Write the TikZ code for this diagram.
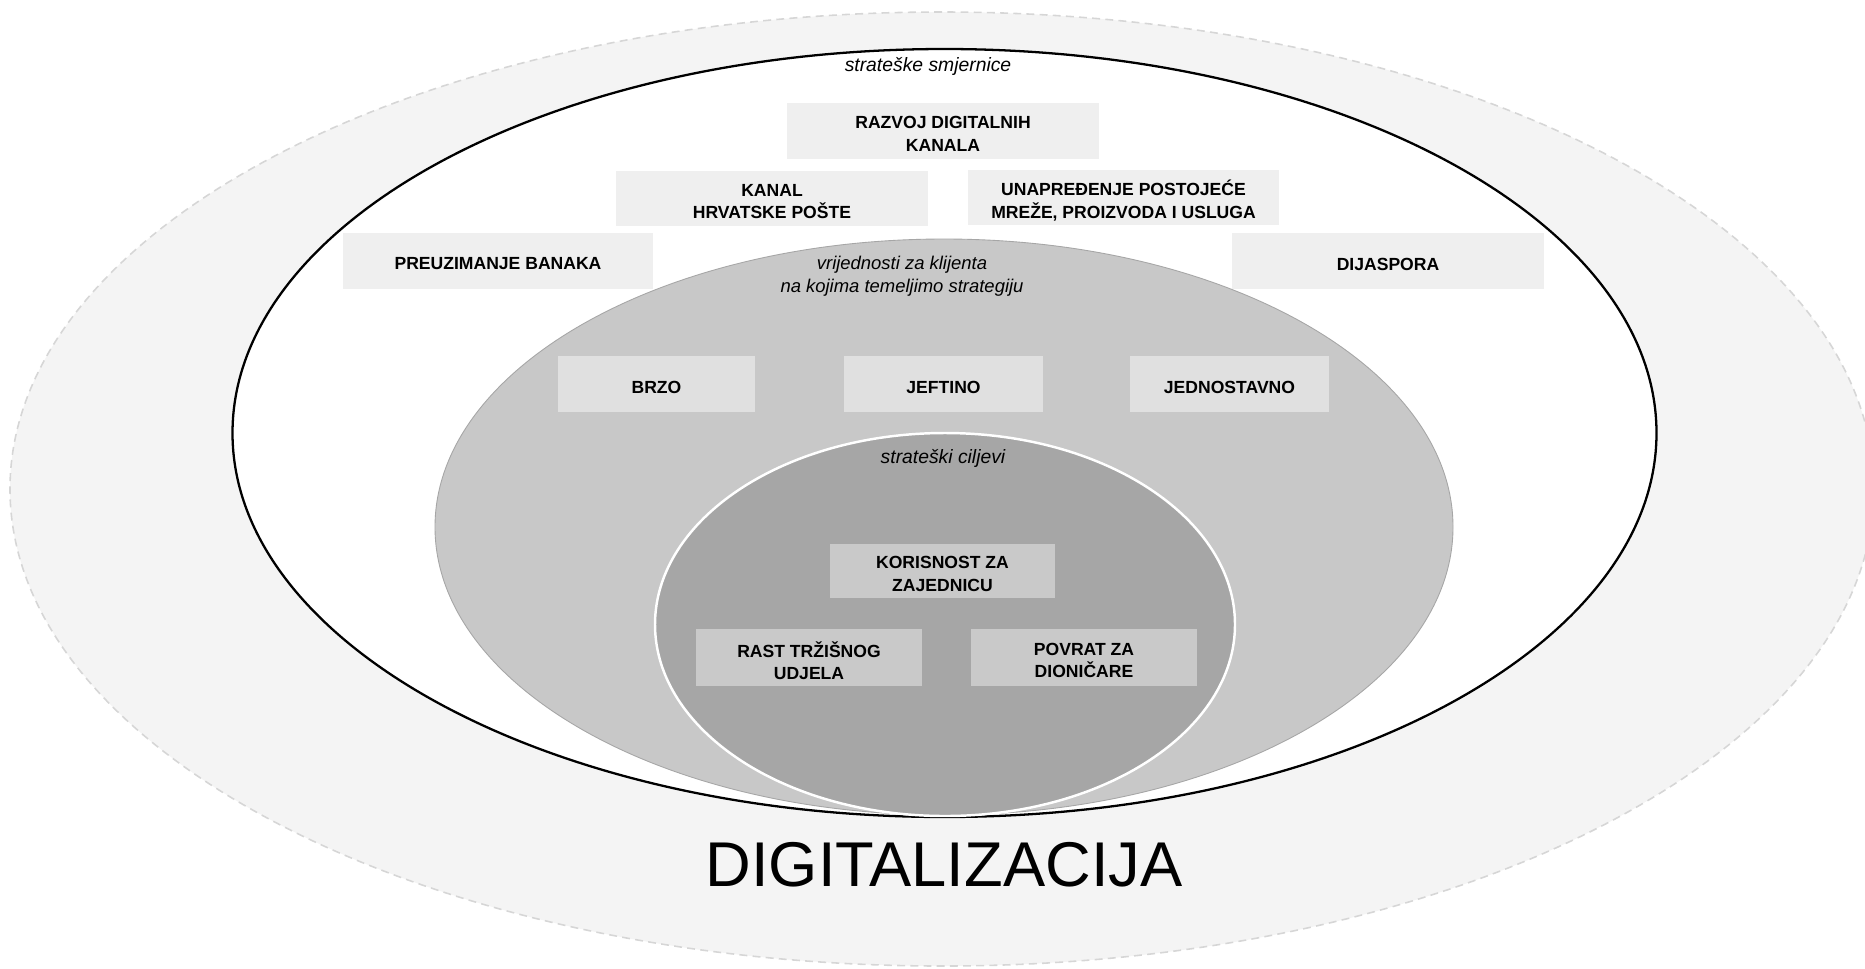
\documentclass[tikz,border=0pt]{standalone}
\usepackage{fontspec}
\setmainfont{Liberation Sans}
\definecolor{ringgray}{HTML}{F4F4F4}
\definecolor{dashgray}{HTML}{D6D6D6}
\definecolor{boxa}{HTML}{EFEFEF}
\definecolor{midgray}{HTML}{C8C8C8}
\definecolor{boxb}{HTML}{E0E0E0}
\definecolor{coregray}{HTML}{A6A6A6}
\definecolor{boxc}{HTML}{C9C9C9}
\begin{document}
\begin{tikzpicture}[x=0.02cm,y=-0.02cm,
    boxtxt/.style={font=\bfseries\fontsize{10}{12.8}\selectfont,align=center,inner sep=0pt,yshift=-1.7pt},
    lbl/.style={font=\itshape\fontsize{11}{12.8}\selectfont,align=center,inner sep=0pt,yshift=-1.4pt}]
    \useasboundingbox (0,0) rectangle (1865,968);
    \clip (0,0) rectangle (1865,968);
    % rings
    \draw[draw=dashgray,fill=ringgray,line width=0.9pt,dash pattern=on 4.5pt off 3pt] (942,489) ellipse [x radius=932,y radius=477];
    \draw[fill=white,line width=1.3pt] (944.5,433) ellipse [x radius=712,y radius=384];
    \draw[draw=black!35,fill=midgray,line width=0.5pt] (944,527) ellipse [x radius=509,y radius=288];
    \draw[draw=white,fill=coregray,line width=1.4pt] (945,624.5) ellipse [x radius=290,y radius=191.5];
    %
    \node[lbl] (smjernice) at (928,64) {strateške smjernice};
    \node[lbl,font=\itshape\fontsize{10.5}{12.8}\selectfont] (vrijednosti) at (902,274) {vrijednosti za klijenta\\na kojima temeljimo strategiju};
    \node[lbl] (ciljevi) at (943,456) {strateški ciljevi};
    %
    \fill[boxa] (787,103) rectangle (1099,159); \node[boxtxt] (razvoj) at (943,131) {RAZVOJ DIGITALNIH\\KANALA};
    \fill[boxa] (616,171) rectangle (928,226); \node[boxtxt] (kanal) at (772,198.5) {KANAL\\HRVATSKE POŠTE};
    \fill[boxa] (968,170) rectangle (1279,225); \node[boxtxt] (mreza) at (1123.5,197.5) {UNAPREĐENJE POSTOJEĆE\\MREŽE, PROIZVODA I USLUGA};
    \fill[boxa] (343,233) rectangle (653,289); \node[boxtxt] (banke) at (498,261) {PREUZIMANJE BANAKA};
    \fill[boxa] (1232,233) rectangle (1544,289); \node[boxtxt] (dijaspora) at (1388,261) {DIJASPORA};
    %
    \fill[boxb] (558,356) rectangle (755,412); \node[boxtxt] (brzo) at (656.5,384) {BRZO};
    \fill[boxb] (844,356) rectangle (1043,412); \node[boxtxt] (jeftino) at (943.5,384) {JEFTINO};
    \fill[boxb] (1130,356) rectangle (1329,412); \node[boxtxt] (jednostavno) at (1229.5,384) {JEDNOSTAVNO};
    %
    \fill[boxc] (830,544) rectangle (1055,598); \node[boxtxt] (korisnost) at (942.5,571) {KORISNOST ZA\\ZAJEDNICU};
    \fill[boxc] (696,629) rectangle (922,686); \node[boxtxt] (rast) at (809,657.5) {RAST TRŽIŠNOG\\UDJELA};
    \fill[boxc] (971,629) rectangle (1197,686); \node[boxtxt] (povrat) at (1084,657.5) {POVRAT ZA\\DIONIČARE};
    %
    \node[font=\fontsize{36}{40}\selectfont,inner sep=0pt] (digital) at (944,864.5) {DIGITALIZACIJA};
\end{tikzpicture}
\end{document}
